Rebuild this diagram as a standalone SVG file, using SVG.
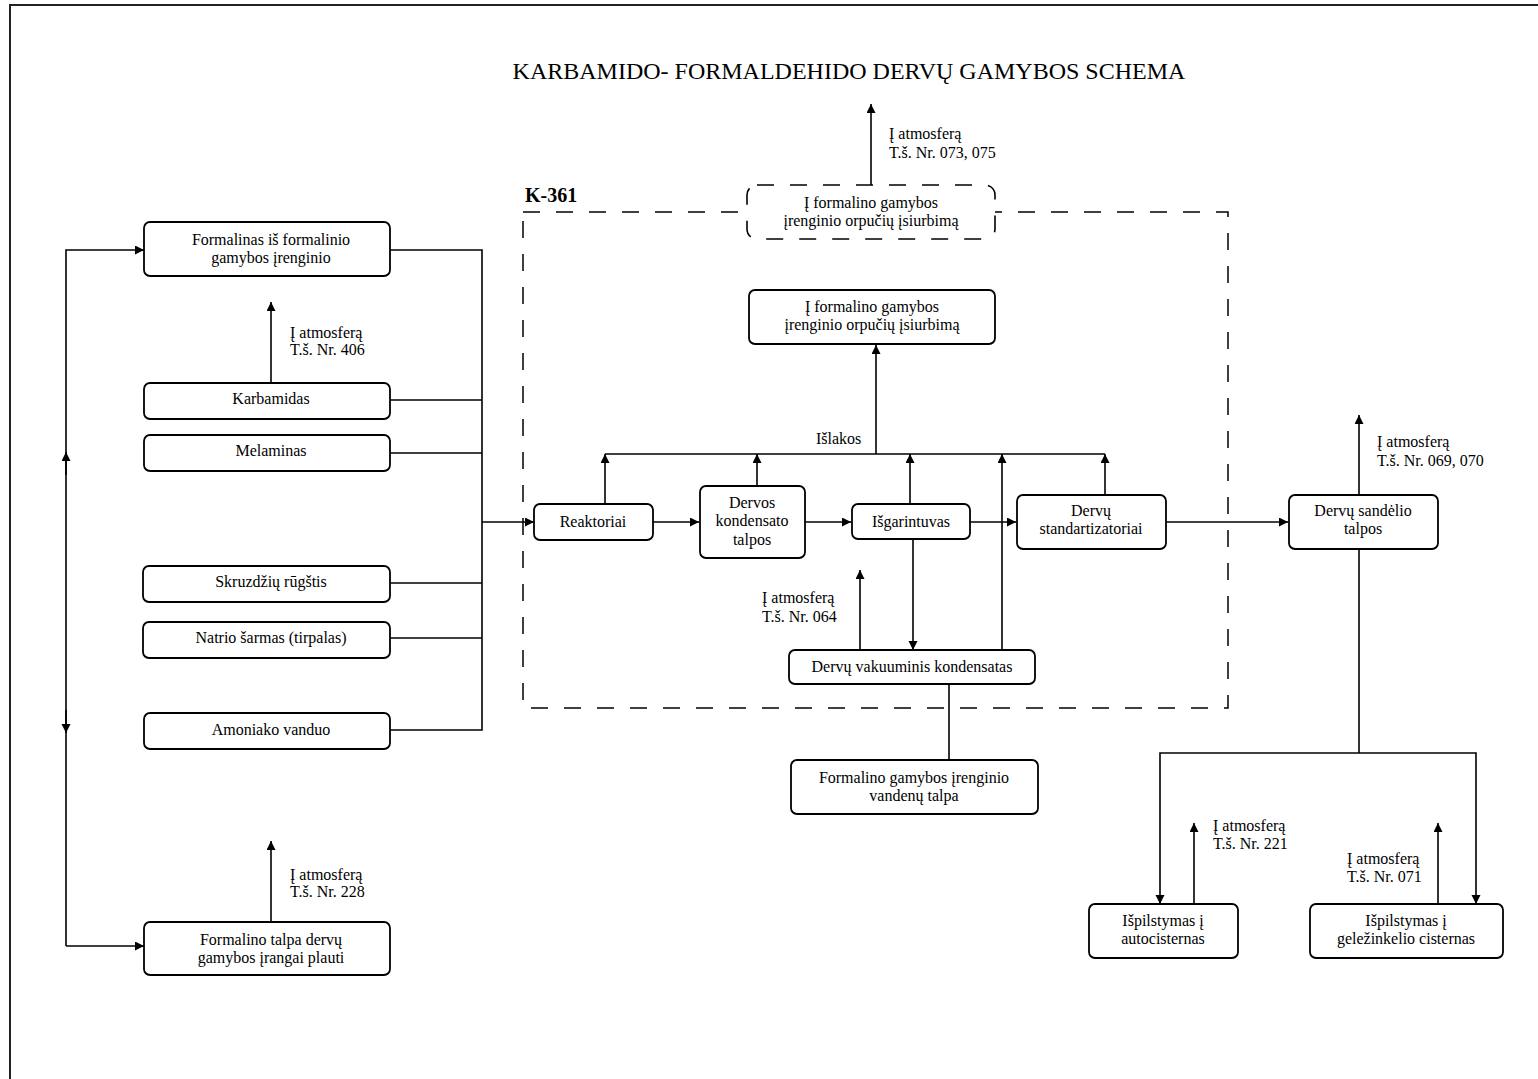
<svg xmlns="http://www.w3.org/2000/svg" width="1538" height="1079" viewBox="0 0 1538 1079">
  <style>
    .box { fill: #fff; stroke: #000; stroke-width: 1.8; }
    .dbox { fill: #fff; stroke: #000; stroke-width: 1.6; stroke-dasharray: 17 16; }
    .frame { fill: none; stroke: #000; stroke-width: 1.5; stroke-dasharray: 17 16; }
    .ln { fill: none; stroke: #000; stroke-width: 1.6; }
    .arr { fill: none; stroke: #000; stroke-width: 1.6; marker-end: url(#ah); }
    text { font-family: "Liberation Serif", "Times New Roman", serif; font-size: 16px; fill: #000; }
    .c { text-anchor: middle; }
    .title { font-size: 24px; }
    .k { font-size: 20px; font-weight: bold; }
  </style>
  <defs>
    <marker id="ah" markerUnits="userSpaceOnUse" markerWidth="10" markerHeight="10" refX="9" refY="4.5" orient="auto">
      <path d="M0,0 L9,4.5 L0,9 z" fill="#000"/>
    </marker>
  </defs>

  <rect width="1538" height="1079" fill="#fff"/>
  <!-- page frame -->
  <path d="M10,1079 V5 H1538" fill="none" stroke="#222" stroke-width="2"/>

  <text class="title c" x="849" y="79">KARBAMIDO- FORMALDEHIDO DERVŲ GAMYBOS SCHEMA</text>

  <!-- K-361 unit boundary -->
  <rect class="frame" x="523" y="212" width="705" height="496"/>
  <text class="k" x="525" y="202">K-361</text>

  <!-- connectors -->
  <g id="connectors">
    <!-- raw material collector -->
    <path class="ln" d="M390,250 H482 V730 H390"/>
    <path class="ln" d="M390,400 H482"/>
    <path class="ln" d="M390,453 H482"/>
    <path class="ln" d="M390,583 H482"/>
    <path class="ln" d="M390,638 H482"/>
    <path class="arr" d="M482,522 H534"/>
    <!-- formalin loop -->
    <path class="arr" d="M66,946 V250 H144"/>
    <path class="arr" d="M66,946 H144"/>
    <path class="arr" d="M66,475 V452"/>
    <path class="arr" d="M66,710 V733"/>
    <!-- vents left -->
    <path class="arr" d="M271,383 V302"/>
    <path class="arr" d="M271,922 V841"/>
    <!-- main line -->
    <path class="arr" d="M653,522 H699"/>
    <path class="arr" d="M805,522 H851"/>
    <path class="arr" d="M970,522 H1016"/>
    <path class="arr" d="M1166,522 H1288"/>
    <!-- emissions bus -->
    <path class="ln" d="M605,454 H1105"/>
    <path class="arr" d="M605,504 V454"/>
    <path class="arr" d="M757,486 V454"/>
    <path class="arr" d="M910,504 V454"/>
    <path class="arr" d="M1002,650 V454"/>
    <path class="arr" d="M1105,495 V454"/>
    <path class="arr" d="M876,454 V345"/>
    <path class="arr" d="M871,185 V104"/>
    <!-- evaporator to vacuum condensate -->
    <path class="arr" d="M913,539 V650"/>
    <path class="arr" d="M860,650 V570"/>
    <path class="ln" d="M949,683 V760"/>
    <!-- storage and loading -->
    <path class="arr" d="M1359,495 V415"/>
    <path class="ln" d="M1359,549 V753"/>
    <path class="arr" d="M1359,753 H1160 V904"/>
    <path class="arr" d="M1359,753 H1476 V904"/>
    <path class="arr" d="M1194,904 V823"/>
    <path class="arr" d="M1438,904 V823"/>
  </g>

  <!-- emission labels -->
  <g id="labels">
    <text x="889" y="139">Į atmosferą</text>
    <text x="889" y="158">T.š. Nr. 073, 075</text>
    <text x="290" y="338">Į atmosferą</text>
    <text x="290" y="355">T.š. Nr. 406</text>
    <text x="290" y="880">Į atmosferą</text>
    <text x="290" y="897">T.š. Nr. 228</text>
    <text x="816" y="444">Išlakos</text>
    <text x="762" y="603">Į atmosferą</text>
    <text x="762" y="622">T.š. Nr. 064</text>
    <text x="1377" y="447">Į atmosferą</text>
    <text x="1377" y="466">T.š. Nr. 069, 070</text>
    <text x="1213" y="831">Į atmosferą</text>
    <text x="1213" y="849">T.š. Nr. 221</text>
    <text x="1347" y="864">Į atmosferą</text>
    <text x="1347" y="882">T.š. Nr. 071</text>
  </g>

  <g id="n-siurbimas-isorinis">
    <rect class="dbox" x="747" y="185" width="248" height="54" rx="10"/>
    <text class="c" x="871" y="208">Į formalino gamybos</text>
    <text class="c" x="871" y="226">įrenginio orpučių įsiurbimą</text>
  </g>
  <g id="n-siurbimas">
    <rect class="box" x="749" y="290" width="246" height="54" rx="6"/>
    <text class="c" x="872" y="312">Į formalino gamybos</text>
    <text class="c" x="872" y="330">įrenginio orpučių įsiurbimą</text>
  </g>

  <g id="n-formalinas">
    <rect class="box" x="144" y="222" width="246" height="54" rx="6"/>
    <text class="c" x="271" y="245">Formalinas iš formalinio</text>
    <text class="c" x="271" y="263">gamybos įrenginio</text>
  </g>
  <g id="n-karbamidas">
    <rect class="box" x="144" y="383" width="246" height="36" rx="6"/>
    <text class="c" x="271" y="404">Karbamidas</text>
  </g>
  <g id="n-melaminas">
    <rect class="box" x="144" y="435" width="246" height="36" rx="6"/>
    <text class="c" x="271" y="456">Melaminas</text>
  </g>
  <g id="n-skruzdziu">
    <rect class="box" x="143" y="566" width="247" height="36" rx="6"/>
    <text class="c" x="271" y="587">Skruzdžių rūgštis</text>
  </g>
  <g id="n-natrio">
    <rect class="box" x="143" y="622" width="247" height="36" rx="6"/>
    <text class="c" x="271" y="643">Natrio šarmas (tirpalas)</text>
  </g>
  <g id="n-amoniako">
    <rect class="box" x="144" y="713" width="246" height="36" rx="6"/>
    <text class="c" x="271" y="735">Amoniako vanduo</text>
  </g>
  <g id="n-plovimas">
    <rect class="box" x="144" y="922" width="246" height="53" rx="6"/>
    <text class="c" x="271" y="945">Formalino talpa dervų</text>
    <text class="c" x="271" y="963">gamybos įrangai plauti</text>
  </g>

  <g id="n-reaktoriai">
    <rect class="box" x="534" y="504" width="119" height="36" rx="6"/>
    <text class="c" x="593" y="527">Reaktoriai</text>
  </g>
  <g id="n-kondensatas">
    <rect class="box" x="700" y="486" width="105" height="72" rx="6"/>
    <text class="c" x="752" y="508">Dervos</text>
    <text class="c" x="752" y="526">kondensato</text>
    <text class="c" x="752" y="545">talpos</text>
  </g>
  <g id="n-isgarintuvas">
    <rect class="box" x="852" y="504" width="118" height="35" rx="6"/>
    <text class="c" x="911" y="527">Išgarintuvas</text>
  </g>
  <g id="n-standartizatoriai">
    <rect class="box" x="1017" y="495" width="149" height="54" rx="6"/>
    <text class="c" x="1091" y="516">Dervų</text>
    <text class="c" x="1091" y="534">standartizatoriai</text>
  </g>
  <g id="n-vakuuminis">
    <rect class="box" x="789" y="650" width="246" height="34" rx="6"/>
    <text class="c" x="912" y="672">Dervų vakuuminis kondensatas</text>
  </g>
  <g id="n-vandenu-talpa">
    <rect class="box" x="791" y="760" width="247" height="54" rx="6"/>
    <text class="c" x="914" y="783">Formalino gamybos įrenginio</text>
    <text class="c" x="914" y="801">vandenų talpa</text>
  </g>
  <g id="n-sandelis">
    <rect class="box" x="1289" y="495" width="149" height="54" rx="6"/>
    <text class="c" x="1363" y="516">Dervų sandėlio</text>
    <text class="c" x="1363" y="534">talpos</text>
  </g>
  <g id="n-autocisternos">
    <rect class="box" x="1089" y="904" width="149" height="54" rx="6"/>
    <text class="c" x="1163" y="926">Išpilstymas į</text>
    <text class="c" x="1163" y="944">autocisternas</text>
  </g>
  <g id="n-gelezinkelio">
    <rect class="box" x="1310" y="904" width="193" height="54" rx="6"/>
    <text class="c" x="1406" y="926">Išpilstymas į</text>
    <text class="c" x="1406" y="944">geležinkelio cisternas</text>
  </g>
</svg>
